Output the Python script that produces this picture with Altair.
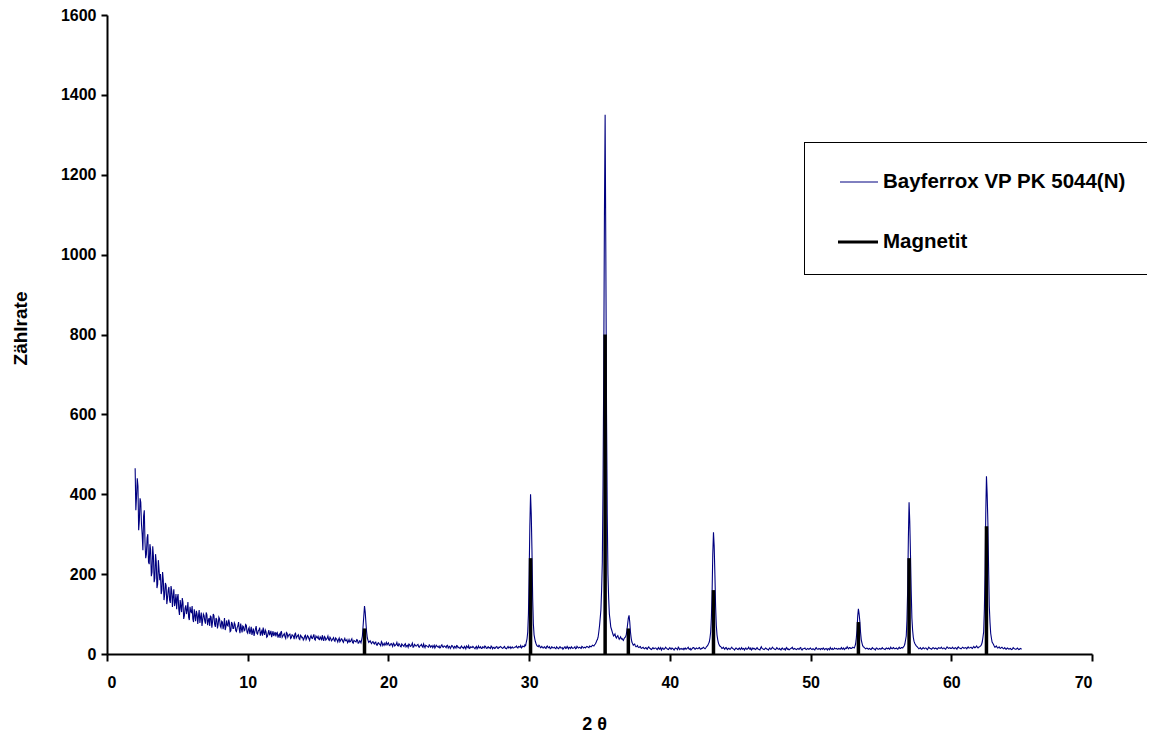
import altair as alt
import pandas as pd

# --- scan: Bayferrox VP PK 5044(N) ---
# counts read at 2theta = 2.0, 2.1, 2.2, ... (one row per degree)
scan_start = 2.0
scan_step = 0.1
counts = [
    465, 395, 420, 335, 380, 300, 345, 280, 250, 300,   # 2
    225, 260, 205, 245, 190, 230, 175, 210, 200, 160,   # 3
    185, 150, 172, 140, 168, 128, 158, 145, 120, 150,   # 4
    140, 112, 135, 105, 128, 96, 122, 110, 92, 118,     # 5
    104, 88, 112, 82, 100, 95, 78, 104, 85, 96,         # 6
    76, 98, 84, 70, 92, 80, 96, 68, 86, 74,             # 7
    88, 66, 80, 72, 60, 84, 70, 78, 58, 76,             # 8
    64, 74, 56, 70, 62, 76, 54, 68, 60, 72,             # 9
    52, 66, 58, 48, 64, 55, 70, 50, 60, 46,             # 10
    58, 66, 48, 56, 44, 60, 52, 42, 57, 50,             # 11
    44, 54, 47, 40, 56, 45, 51, 39, 52, 46,             # 12
    50, 41, 47, 37, 52, 43, 48, 36, 45, 42,             # 13
    38, 47, 40, 44, 34, 46, 39, 49, 35, 42,             # 14
    44, 36, 40, 47, 33, 42, 37, 45, 34, 39,             # 15
    35, 41, 32, 38, 30, 40, 34, 37, 29, 39,             # 16
    33, 28, 36, 31, 38, 27, 33, 30, 35, 28,             # 17
    32, 36, 70, 120, 78, 40, 29, 33, 26, 31,            # 18
    25, 30, 22, 28, 24, 31, 21, 27, 25, 23,             # 19
    28, 21, 26, 19, 25, 22, 29, 20, 24, 18,             # 20
    23, 19, 26, 21, 17, 24, 20, 27, 18, 22,             # 21
    20, 24, 17, 22, 19, 25, 16, 21, 18, 23,             # 22
    17, 21, 19, 15, 22, 18, 20, 16, 23, 17,             # 23
    20, 16, 22, 18, 14, 21, 17, 19, 15, 20,             # 24
    17, 14, 20, 16, 19, 13, 18, 21, 15, 17,             # 25
    19, 15, 17, 13, 20, 16, 14, 18, 15, 19,             # 26
    14, 18, 16, 20, 13, 17, 15, 19, 14, 16,             # 27
    18, 14, 17, 15, 13, 19, 16, 14, 18, 15,             # 28
    17, 20, 15, 18, 21, 17, 19, 23, 30, 55,             # 29
    200, 400, 260, 75, 38, 25, 19, 22, 16, 19,          # 30
    15, 18, 14, 20, 16, 13, 18, 15, 17, 13,             # 31
    16, 13, 18, 15, 12, 17, 14, 19, 13, 16,             # 32
    18, 14, 16, 13, 19, 15, 17, 14, 18, 16,             # 33
    15, 19, 17, 20, 18, 22, 20, 25, 33, 42,             # 34
    70, 110, 230, 700, 1350, 600, 200, 100, 68, 56,     # 35
    45, 50, 40, 46, 37, 43, 39, 34, 41, 48,             # 36
    75, 97, 55, 30, 22, 25, 18, 21, 16, 19,             # 37
    14, 17, 13, 16, 12, 18, 14, 11, 16, 13,             # 38
    15, 11, 16, 13, 10, 15, 12, 17, 13, 11,             # 39
    16, 12, 14, 10, 15, 13, 17, 11, 14, 12,             # 40
    11, 15, 13, 17, 12, 10, 14, 16, 12, 15,             # 41
    13, 16, 12, 14, 17, 13, 18, 22, 30, 55,             # 42
    150, 305, 200, 72, 36, 23, 19, 14, 17, 12,          # 43
    16, 11, 14, 12, 17, 13, 10, 15, 12, 14,             # 44
    11, 16, 13, 10, 15, 12, 17, 12, 10, 15,             # 45
    14, 11, 16, 12, 10, 18, 13, 11, 15, 12,             # 46
    10, 15, 12, 17, 13, 11, 16, 12, 14, 10,             # 47
    15, 12, 10, 16, 13, 11, 14, 17, 12, 13,             # 48
    11, 14, 12, 16, 10, 13, 15, 11, 14, 12,             # 49
    15, 11, 13, 10, 16, 12, 14, 11, 13, 15,             # 50
    11, 14, 10, 13, 16, 12, 11, 15, 13, 12,             # 51
    14, 12, 16, 13, 11, 15, 18, 13, 16, 14,             # 52
    17, 15, 25, 60, 113, 82, 36, 21, 17, 13,            # 53
    15, 12, 14, 11, 16, 13, 10, 15, 12, 14,             # 54
    12, 16, 13, 11, 15, 14, 12, 17, 13, 16,             # 55
    13, 15, 12, 17, 14, 16, 18, 25, 45, 160,            # 56
    380, 250, 90, 42, 27, 21, 17, 13, 16, 12,           # 57
    16, 13, 15, 11, 17, 14, 12, 16, 13, 15,             # 58
    12, 16, 14, 17, 13, 15, 12, 18, 14, 16,             # 59
    14, 17, 13, 16, 12, 18, 15, 13, 17, 14,             # 60
    16, 13, 18, 15, 17, 14, 19, 16, 20, 15,             # 61
    18, 21, 30, 55, 200, 445, 330, 120, 52, 30,         # 62
    24, 17, 20, 15, 18, 14, 17, 13, 16, 12,             # 63
    15, 12, 14, 11, 16, 13, 12, 15, 11, 14,             # 64
    12,                                                 # 65
]
# counts read at the intermediate angles 2.05, 2.15, 2.25, ...
half_start = 2.05
counts_half = [
    360, 440, 310, 390, 325, 260, 360, 240, 290, 230,   # 2
    275, 195, 270, 180, 250, 165, 235, 185, 150, 205,   # 3
    135, 178, 125, 160, 135, 170, 118, 162, 130, 112,   # 4
    150, 98, 120, 140, 88, 115, 100, 130, 85, 106,      # 5
    120, 80, 96, 108, 75, 110, 92, 70, 100, 82,         # 6
    104, 72, 90, 96, 66, 100, 74, 90, 64, 92,           # 7
    70, 82, 62, 90, 68, 72, 86, 56, 80, 64,             # 8
    78, 58, 66, 80, 52, 64, 70, 58, 74, 55,             # 9
    62, 50, 68, 56, 45, 62, 52, 58, 66, 54,             # 10
    46, 54, 60, 42, 52, 47, 58, 50, 45, 55,             # 11
    52, 41, 50, 55, 42, 48, 43, 54, 42, 49,             # 12
    39, 48, 44, 50, 40, 46, 38, 47, 41, 35,             # 13
    45, 36, 46, 38, 42, 40, 44, 37, 45, 40,             # 14
    37, 43, 34, 39, 44, 35, 40, 36, 42, 33,             # 15
    38, 34, 40, 35, 36, 31, 38, 32, 35, 33,             # 16
    36, 31, 30, 35, 29, 34, 31, 36, 27, 33,             # 17
    28, 45, 95, 105, 55, 34, 31, 29, 30, 27,            # 18
    29, 23, 27, 25, 21, 28, 24, 22, 29, 26,             # 19
    22, 25, 23, 27, 20, 24, 21, 26, 19, 25,             # 20
    21, 24, 18, 22, 25, 19, 23, 17, 24, 20,             # 21
    23, 18, 21, 24, 17, 20, 22, 19, 17, 21,             # 22
    19, 16, 22, 18, 20, 17, 15, 21, 18, 20,             # 23
    18, 21, 15, 19, 17, 20, 14, 18, 21, 16,             # 24
    15, 18, 16, 14, 17, 20, 16, 14, 18, 16,             # 25
    17, 13, 19, 16, 15, 18, 14, 17, 20, 15,             # 26
    17, 15, 14, 18, 16, 14, 18, 15, 17, 19,             # 27
    16, 15, 19, 14, 17, 15, 18, 16, 15, 17,             # 28
    18, 16, 19, 17, 15, 20, 18, 21, 38, 100,            # 29
    320, 350, 140, 48, 30, 21, 18, 20, 17, 16,          # 30
    17, 15, 19, 16, 18, 14, 17, 16, 14, 18,             # 31
    14, 17, 15, 16, 14, 18, 15, 16, 17, 14,             # 32
    16, 15, 18, 14, 17, 16, 15, 19, 15, 17,             # 33
    17, 18, 16, 19, 20, 21, 23, 28, 36, 55,             # 34
    90, 160, 420, 1100, 1000, 350, 140, 85, 62, 50,     # 35
    47, 43, 44, 41, 40, 38, 36, 39, 43, 60,             # 36
    90, 80, 40, 26, 24, 20, 19, 17, 18, 15,             # 37
    16, 14, 15, 13, 16, 15, 12, 14, 13, 15,             # 38
    13, 14, 12, 16, 13, 12, 14, 15, 12, 14,             # 39
    13, 15, 12, 13, 14, 11, 15, 13, 12, 14,             # 40
    14, 12, 15, 13, 14, 12, 16, 13, 14, 13,             # 41
    15, 13, 14, 16, 14, 15, 20, 26, 40, 90,             # 42
    250, 270, 120, 48, 28, 20, 17, 15, 14, 15,          # 43
    13, 14, 12, 15, 14, 12, 13, 14, 11, 15,             # 44
    13, 12, 14, 13, 12, 14, 13, 15, 12, 13,             # 45
    12, 14, 13, 11, 15, 14, 12, 13, 14, 12,             # 46
    13, 12, 15, 14, 12, 13, 14, 12, 11, 14,             # 47
    12, 13, 14, 12, 11, 13, 15, 13, 14, 12,             # 48
    13, 12, 15, 11, 13, 14, 12, 13, 12, 14,             # 49
    12, 13, 11, 14, 13, 12, 13, 14, 12, 13,             # 50
    13, 12, 14, 11, 13, 14, 12, 13, 14, 12,             # 51
    13, 14, 12, 15, 13, 14, 15, 16, 14, 15,             # 52
    16, 19, 40, 95, 100, 55, 28, 18, 15, 14,            # 53
    14, 13, 12, 14, 13, 12, 14, 13, 12, 13,             # 54
    14, 13, 12, 14, 13, 15, 13, 14, 15, 13,             # 55
    14, 13, 15, 14, 16, 15, 20, 35, 85, 290,            # 56
    330, 160, 60, 32, 24, 19, 15, 14, 13, 14,           # 57
    14, 15, 13, 14, 15, 13, 14, 15, 14, 13,             # 58
    14, 15, 15, 14, 15, 13, 15, 16, 15, 14,             # 59
    15, 14, 15, 14, 16, 15, 14, 15, 16, 15,             # 60
    15, 16, 15, 16, 15, 17, 16, 18, 17, 17,             # 61
    19, 24, 42, 110, 350, 400, 220, 80, 40, 27,         # 62
    20, 18, 17, 16, 15, 16, 15, 14, 13, 14,             # 63
    13, 13, 12, 13, 14, 12, 13, 13, 12, 13,             # 64
]

# --- reference lines: Magnetit ---
magnetit_pos = [18.3, 30.1, 35.4, 37.05, 43.1, 53.4, 57.0, 62.5]
magnetit_int = [64, 240, 800, 64, 160, 80, 240, 320]

x_ticks = [0, 10, 20, 30, 40, 50, 60, 70]
y_ticks = [0, 200, 400, 600, 800, 1000, 1200, 1400, 1600]

series_names = ["Bayferrox VP PK 5044(N)", "Magnetit"]
series_colors = ["#000080", "#000000"]

FONT = "Liberation Sans"

angles = [round(scan_start + scan_step * i, 2) for i in range(len(counts))]
angles_half = [round(half_start + scan_step * i, 2) for i in range(len(counts_half))]
scan_df = pd.DataFrame(
    {"two_theta": angles + angles_half, "counts": counts + counts_half}
).sort_values("two_theta").reset_index(drop=True)
mag_df = pd.DataFrame({"pos": magnetit_pos, "intensity": magnetit_int})

x_enc = alt.X(
    "two_theta:Q",
    sort=None,
    scale=alt.Scale(domain=[0, 70], nice=False, zero=True),
    axis=alt.Axis(
        values=x_ticks, format="d", title="2 θ", titleX=487, titleY=70,
        titleBaseline="middle", titleAlign="center", titleFontSize=18,
    ),
)
y_enc = alt.Y(
    "counts:Q",
    scale=alt.Scale(domain=[0, 1600], nice=False),
    axis=alt.Axis(
        values=y_ticks, format="d", title="Zählrate", titleX=-87, titleY=313,
        titleBaseline="middle", titleAlign="center", titleAngle=-90,
        titleFontSize=19,
    ),
)

scan = alt.Chart(scan_df).mark_line(
    color=series_colors[0], strokeWidth=1.1, interpolate="linear"
).encode(x=x_enc, y=y_enc, order="two_theta:Q")

sticks = alt.Chart(mag_df).mark_rule(
    color=series_colors[1], strokeWidth=3.5
).encode(
    x=alt.X("pos:Q"),
    y=alt.Y("intensity:Q"),
    y2=alt.datum(0),
)

one = pd.DataFrame({"a": [0]})
box_top = alt.Chart(one).mark_rule(color="black", strokeWidth=1).encode(
    x=alt.value(697), x2=alt.value(1040), y=alt.value(127.5))
box_bottom = alt.Chart(one).mark_rule(color="black", strokeWidth=1).encode(
    x=alt.value(697), x2=alt.value(1040), y=alt.value(259.5))
box_left = alt.Chart(one).mark_rule(color="black", strokeWidth=1).encode(
    x=alt.value(697.5), y=alt.value(127), y2=alt.value(260))

leg_sym_blue = alt.Chart(one).mark_rule(color=series_colors[0], strokeWidth=1).encode(
    x=alt.value(733), x2=alt.value(771), y=alt.value(167))
leg_sym_black = alt.Chart(one).mark_rule(color=series_colors[1], strokeWidth=3).encode(
    x=alt.value(731), x2=alt.value(771), y=alt.value(227))

leg_df = pd.DataFrame({"label": series_names, "ly": [167, 227]})
leg_text = alt.Chart(leg_df).mark_text(
    align="left", baseline="middle", font=FONT, fontWeight="bold",
    fontSize=20.5, color="black",
).encode(
    x=alt.value(776),
    y=alt.Y("ly:Q", scale=None),
    text="label:N",
)

chart = alt.layer(
    scan, sticks, box_top, box_bottom, box_left, leg_sym_blue, leg_sym_black, leg_text
).properties(
    width=985, height=639,
    autosize=alt.AutoSizeParams(type="none"),
    padding={"left": 99, "top": 7, "right": 55, "bottom": 81},
).configure_view(
    stroke=None
).configure_axis(
    grid=False,
    domainColor="black", domainWidth=2,
    tickColor="black", tickWidth=2, tickSize=6,
    labelFont=FONT, labelFontWeight="bold", labelFontSize=16, labelColor="black",
    titleFont=FONT, titleFontWeight="bold", titleColor="black",
).configure_axisY(
    labelPadding=5,
).configure_axisX(
    labelPadding=13, tickSize=7,
)

chart.save("out.html", embed_options={"renderer": "svg", "actions": False})
